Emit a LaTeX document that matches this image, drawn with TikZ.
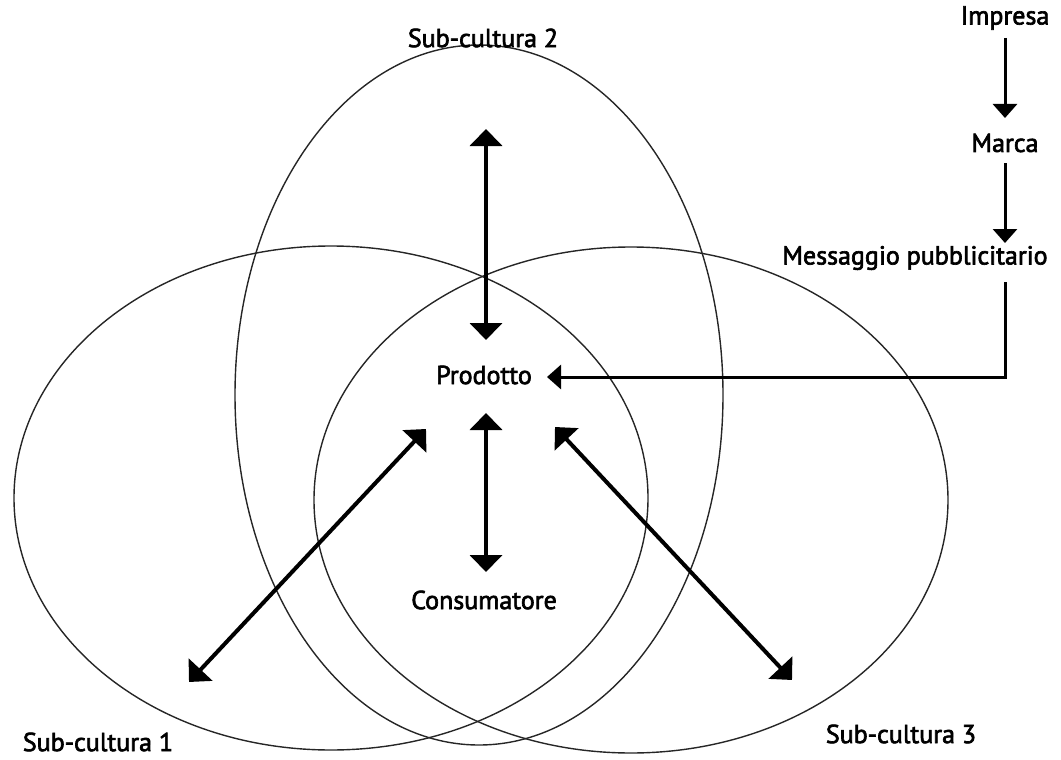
\documentclass[tikz,border=0pt]{standalone}
\usepackage{fontspec}
\setmainfont{PT Sans}
\newfontfamily\lblfont[FakeBold=2.5]{PT Sans}
\usetikzlibrary{arrows.meta}
\begin{document}
\begin{tikzpicture}[x=1pt,y=-1pt,
  lbl/.style={font=\lblfont\fontsize{26}{30}\selectfont, inner sep=0pt, anchor=center},
  ring/.style={draw=black!85, line width=1.4pt},
  thick arrow/.style={line width=4pt, {Triangle[width=32pt,length=17pt]}-{Triangle[width=32pt,length=17pt]}},
  one arrow/.style={line width=3pt, -{Triangle[width=24pt,length=14pt]}}]
\useasboundingbox (0,0) rectangle (1061,760);
% ellipses
\draw[ring] (331,498) ellipse [x radius=317, y radius=252];
\draw[ring] (479,395) ellipse [x radius=244, y radius=350];
\draw[ring] (631,500) ellipse [x radius=317, y radius=253];
% labels
\node[lbl] (sc2) at (483,38) {Sub-cultura 2};
\node[lbl] (sc1) at (98,742) {Sub-cultura 1};
\node[lbl] (sc3) at (901,734) {Sub-cultura 3};
\node[lbl] (imp) at (1005,18) {Impresa};
\node[lbl] (mar) at (1005,143) {Marca};
\node[lbl] (msg) at (915,258) {Messaggio pubblicitario};
\node[lbl] (prod) at (484,375) {Prodotto};
\node[lbl] (cons) at (484,600) {Consumatore};
% arrow end points
\coordinate (a1) at (486,129);
\coordinate (a2) at (486,340);
\coordinate (b1) at (486,413);
\coordinate (b2) at (486,572);
\coordinate (c1) at (426,429);
\coordinate (c2) at (189,682);
\coordinate (d1) at (555,427);
\coordinate (d2) at (792,680);
\coordinate (e1) at (1005,38);
\coordinate (e2) at (1005,118);
\coordinate (f1) at (1005,163);
\coordinate (f2) at (1005,243);
\coordinate (g1) at (1005,282);
\coordinate (g2) at (1005,377);
\coordinate (g3) at (547,377);
% connectors
\draw[thick arrow] (a1) -- (a2);
\draw[thick arrow] (b1) -- (b2);
\draw[thick arrow] (c1) -- (c2);
\draw[thick arrow] (d1) -- (d2);
\draw[one arrow] (e1) -- (e2);
\draw[one arrow] (f1) -- (f2);
\draw[one arrow] (g1) -- (g2) -- (g3);
\end{tikzpicture}
\end{document}
